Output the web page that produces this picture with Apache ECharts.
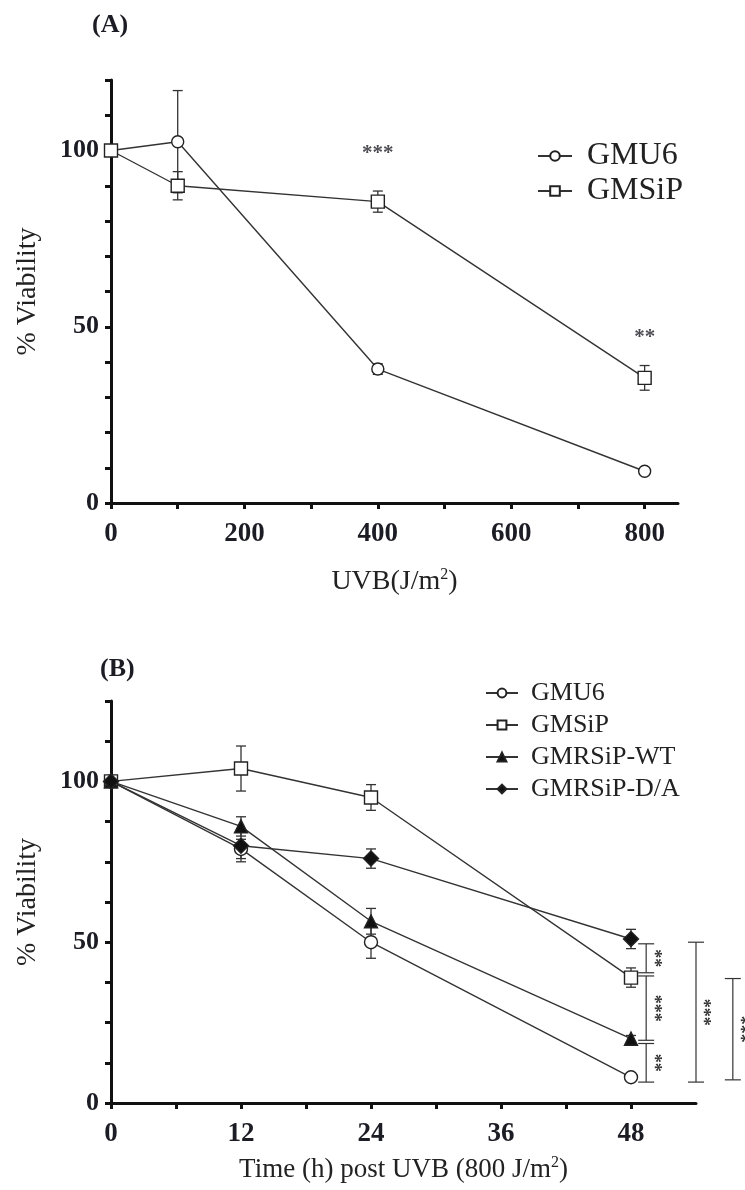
<!DOCTYPE html>
<html><head><meta charset="utf-8">
<script src="https://cdn.jsdelivr.net/npm/echarts@6/dist/echarts.min.js"></script>
<style>html,body{margin:0;padding:0;background:#fff}#c{width:745px;height:1190px}</style>
</head><body><div id="c"></div>
<script>
// ---------- Panel A data ----------
const doseA = [0, 100, 400, 800];
const gmu6A = [100, 102.5, 38, 9];
const gmu6AErr = [0, 14.5, 1.5, 0.5];
const gmsipA = [100, 90, 85.5, 35.5];
const gmsipAErr = [0, 4, 3, 3.5];
const starsA = [[400, 99, '***'], [800, 47, '**']];
const xTicksA = [0, 100, 200, 300, 400, 500, 600, 700, 800];
const xLabelsA = [0, 200, 400, 600, 800];
const yTicksA = [0, 10, 20, 30, 40, 50, 60, 70, 80, 90, 100, 110, 120];
const yLabelsA = [0, 50, 100];

// ---------- Panel B data ----------
const timeB = [0, 12, 24, 48];
const gmu6B = [100, 79, 50, 8];
const gmu6BErr = [0, 3, 5, 1];
const gmsipB = [100, 104, 95, 39];
const gmsipBErr = [0, 7, 4, 3];
const wtB = [100, 86, 56.5, 20];
const wtBErr = [0, 3, 4, 1];
const daB = [100, 80, 76, 51];
const daBErr = [0, 5, 3, 3];
// brackets: [x, yTop, yBottom, stars]
const bracketsB = [[49.4, 49.5, 40.5, '**'], [49.4, 39.5, 19.5, '***'], [49.4, 18.5, 6.5, '**'],
                   [54, 50, 6.5, '***'], [57.4, 38.7, 7.2, '***']];
const xTicksB = [0, 6, 12, 18, 24, 30, 36, 42, 48];
const xLabelsB = [0, 12, 24, 36, 48];
const yTicksB = [0, 12.5, 25, 37.5, 50, 62.5, 75, 87.5, 100, 112.5, 125];
const yLabelsB = [0, 50, 100];

const SERIF = '"Liberation Serif","DejaVu Serif",serif';
const INK = '#1c1c24';
const chart = echarts.init(document.getElementById('c'), null, {renderer: 'canvas'});

function pairs(xs, ys) { return xs.map((x, i) => [x, ys[i]]); }
function errData(xs, ys, es) { return xs.map((x, i) => [x, ys[i] - es[i], ys[i] + es[i]]).filter((d, i) => es[i] > 0); }

function errSeries(xi, data) {
  return {
    type: 'custom', xAxisIndex: xi, yAxisIndex: xi, z: 1, silent: true,
    data: data,
    renderItem: function (params, api) {
      const lo = api.coord([api.value(0), api.value(1)]);
      const hi = api.coord([api.value(0), api.value(2)]);
      const w = 5;
      const st = {stroke: '#333', lineWidth: 1.3};
      return {type: 'group', children: [
        {type: 'line', shape: {x1: lo[0], y1: lo[1], x2: hi[0], y2: hi[1]}, style: st},
        {type: 'line', shape: {x1: lo[0] - w, y1: lo[1], x2: lo[0] + w, y2: lo[1]}, style: st},
        {type: 'line', shape: {x1: hi[0] - w, y1: hi[1], x2: hi[0] + w, y2: hi[1]}, style: st}
      ]};
    }
  };
}

function lineSeries(name, xi, data, symbol, size, filled) {
  return {
    name: name, type: 'line', xAxisIndex: xi, yAxisIndex: xi, data: data, z: 3,
    symbol: symbol, symbolSize: size, showAllSymbol: true,
    lineStyle: {color: '#333', width: 1.4},
    itemStyle: {color: filled ? '#111' : '#fff', borderColor: '#222', borderWidth: 1.4},
    emphasis: {disabled: true}, animation: false
  };
}

function axisX(gi, ticks, labels, max, nameRich, gap, nfs) {
  return {
    type: 'value', gridIndex: gi, min: 0, max: max,
    name: nameRich, nameLocation: 'middle', nameGap: gap,
    nameTextStyle: {fontFamily: SERIF, fontSize: nfs, color: '#222',
      rich: {s: {fontFamily: SERIF, fontSize: 16, color: '#222', verticalAlign: 'top', padding: [0, 0, 14, 0]}}},
    axisLine: {show: true, onZero: false, lineStyle: {color: '#111', width: 3}},
    axisTick: {show: true, inside: false, length: 6, lineStyle: {color: '#111', width: 3}, customValues: ticks},
    axisLabel: {show: true, margin: 18, fontFamily: SERIF, fontWeight: 'bold', fontSize: 27, color: INK, customValues: labels},
    splitLine: {show: false}
  };
}
function axisY(gi, ticks, labels, max) {
  return {
    type: 'value', gridIndex: gi, min: 0, max: max,
    name: '% Viability', nameLocation: 'middle', nameGap: 69,
    nameTextStyle: {fontFamily: SERIF, fontSize: 28, color: '#222'},
    axisLine: {show: true, onZero: false, lineStyle: {color: '#111', width: 3}},
    axisTick: {show: true, inside: false, length: 6, lineStyle: {color: '#111', width: 3}, customValues: ticks},
    axisLabel: {show: true, margin: 12, fontFamily: SERIF, fontWeight: 'bold', fontSize: 26, color: INK, customValues: labels},
    splitLine: {show: false}
  };
}

const option = {
  backgroundColor: '#fff',
  animation: false,
  title: [
    {text: '(A)', left: 87, top: 7, textStyle: {fontFamily: SERIF, fontWeight: 'bold', fontSize: 26, color: INK}},
    {text: '(B)', left: 95, top: 651, textStyle: {fontFamily: SERIF, fontWeight: 'bold', fontSize: 26, color: INK}}
  ],
  grid: [
    {left: 111, top: 80, width: 567, height: 423},
    {left: 111, top: 701, width: 585, height: 402}
  ],
  xAxis: [
    axisX(0, xTicksA, xLabelsA, 850, 'UVB(J/m{s|2})', 64, 28),
    axisX(1, xTicksB, xLabelsB, 54, 'Time (h) post UVB (800 J/m{s|2})', 52, 27)
  ],
  yAxis: [axisY(0, yTicksA, yLabelsA, 120), axisY(1, yTicksB, yLabelsB, 125)],
  legend: [
    {data: ['GMU6', 'GMSiP'], left: 537, top: 140, padding: 0, orient: 'vertical', itemGap: 3,
     itemWidth: 34, itemHeight: 12, selectedMode: false,
     textStyle: {fontFamily: SERIF, fontSize: 32, lineHeight: 32, color: '#222', padding: [0, 0, 0, 10]}},
    {data: ['GMU6', 'GMSiP', 'GMRSiP-WT', 'GMRSiP-D/A'], left: 485, top: 680, padding: 0, orient: 'vertical', itemGap: 6,
     itemWidth: 32, itemHeight: 11, selectedMode: false,
     textStyle: {fontFamily: SERIF, fontSize: 26, lineHeight: 26, color: '#222', padding: [0, 0, 0, 8]}}
  ],
  series: [
    errSeries(0, errData(doseA, gmu6A, gmu6AErr)),
    errSeries(0, errData(doseA, gmsipA, gmsipAErr)),
    lineSeries('GMU6', 0, pairs(doseA, gmu6A), 'circle', 12, false),
    lineSeries('GMSiP', 0, pairs(doseA, gmsipA), 'rect', 13, false),
    {type: 'scatter', xAxisIndex: 0, yAxisIndex: 0, symbolSize: 0, silent: true, data: starsA,
     label: {show: true, position: 'inside', formatter: p => p.value[2], fontFamily: SERIF, fontWeight: 'bold', fontSize: 21, color: INK}},
    errSeries(1, errData(timeB, gmu6B, gmu6BErr)),
    errSeries(1, errData(timeB, gmsipB, gmsipBErr)),
    errSeries(1, errData(timeB, wtB, wtBErr)),
    errSeries(1, errData(timeB, daB, daBErr)),
    lineSeries('GMU6', 1, pairs(timeB, gmu6B), 'circle', 13, false),
    lineSeries('GMSiP', 1, pairs(timeB, gmsipB), 'rect', 13, false),
    lineSeries('GMRSiP-WT', 1, pairs(timeB, wtB), 'triangle', 13, true),
    lineSeries('GMRSiP-D/A', 1, pairs(timeB, daB), 'diamond', 15, true),
    {type: 'custom', xAxisIndex: 1, yAxisIndex: 1, clip: false, silent: true, data: bracketsB,
     renderItem: function (params, api) {
       const t = api.coord([api.value(0), api.value(1)]);
       const b = api.coord([api.value(0), api.value(2)]);
       const w = 8;
       const st = {stroke: '#333', lineWidth: 1.2};
       return {type: 'group', children: [
         {type: 'line', shape: {x1: t[0], y1: t[1], x2: b[0], y2: b[1]}, style: st},
         {type: 'line', shape: {x1: t[0] - w, y1: t[1], x2: t[0] + w, y2: t[1]}, style: st},
         {type: 'line', shape: {x1: b[0] - w, y1: b[1], x2: b[0] + w, y2: b[1]}, style: st},
         {type: 'text', x: t[0] + 7, y: (t[1] + b[1]) / 2, rotation: -Math.PI / 2,
          style: {text: bracketsB[params.dataIndex][3], fontFamily: SERIF, fontSize: 18, fontWeight: 'bold', fill: '#333', align: 'center', verticalAlign: 'middle'}}
       ]};
     }}
  ]
};
chart.setOption(option);
</script></body></html>
